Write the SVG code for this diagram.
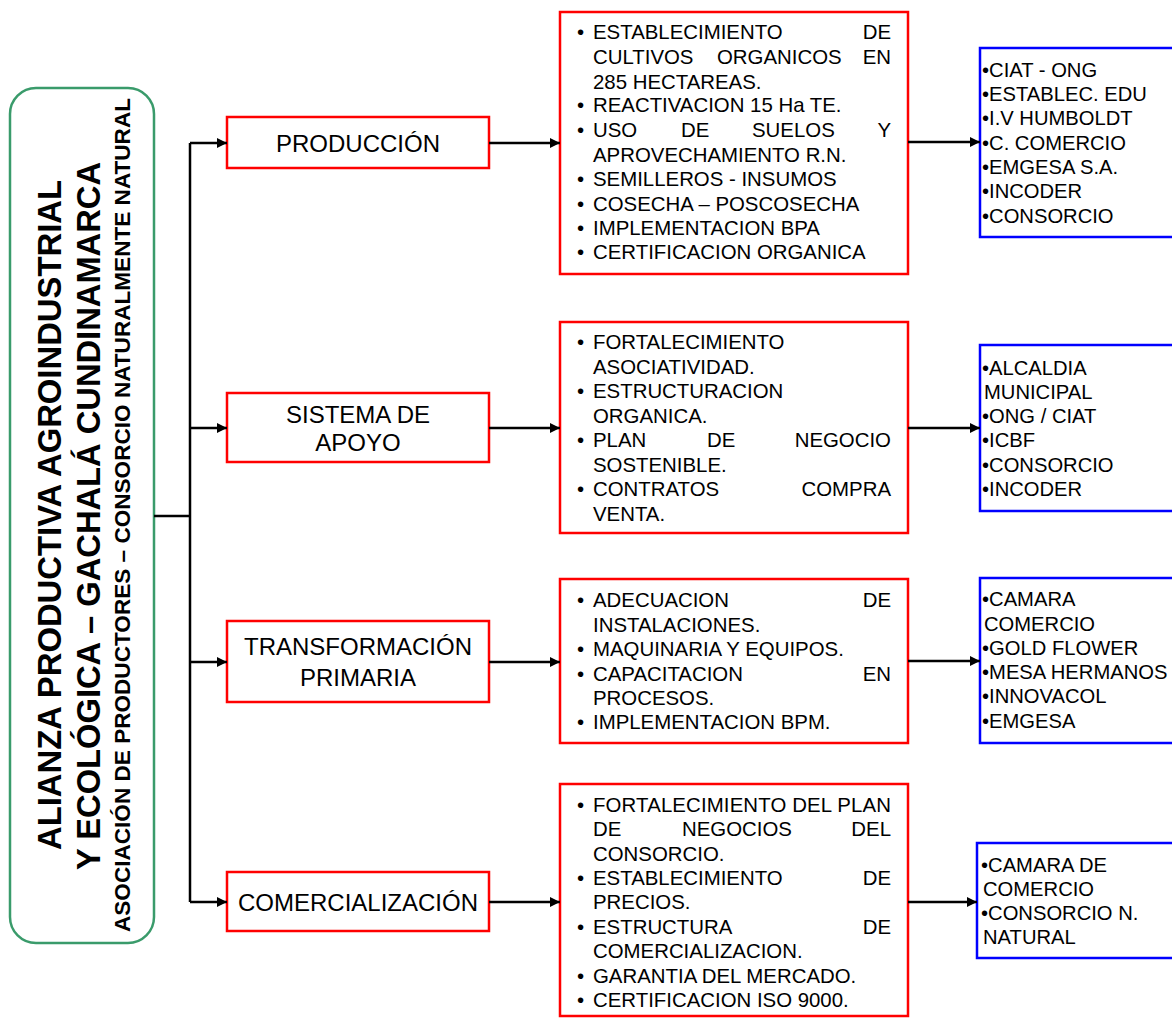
<svg xmlns="http://www.w3.org/2000/svg" width="1172" height="1018" viewBox="0 0 1172 1018">
<style>
text{font-family:"Liberation Sans",Arial,sans-serif;fill:#000}
.main{fill:#fff;stroke:#3a9b6b;stroke-width:2.5}
.cat{fill:#fff;stroke:#ff0000;stroke-width:2.5}
.det{fill:#fff;stroke:#ff0000;stroke-width:2.5}
.ent{fill:#fff;stroke:#0000ff;stroke-width:2.5}
.ct{font-size:24px;text-anchor:middle}
.dt{font-size:20.4px}
.et{font-size:20.2px}
.tb{font-weight:bold}
.conn path{fill:none;stroke:#000;stroke-width:2.5}
</style>
<defs>
<marker id="ah" viewBox="0 0 10 10" refX="10" refY="5" markerWidth="11" markerHeight="10" markerUnits="userSpaceOnUse" orient="auto">
<path d="M0,0 L10,5 L0,10 z" fill="#000"/>
</marker>
</defs>

<g id="main">
<rect class="main" x="10" y="88" width="144" height="855" rx="26" ry="26"/>
<text class="tb" transform="translate(61,515) rotate(-90)" x="-335" y="0" font-size="32.5" textLength="670" lengthAdjust="spacingAndGlyphs">ALIANZA PRODUCTIVA AGROINDUSTRIAL</text>
<text class="tb" transform="translate(100,516) rotate(-90)" x="-354" y="0" font-size="33.5" textLength="708" lengthAdjust="spacingAndGlyphs">Y ECOLÓGICA – GACHALÁ CUNDINAMARCA</text>
<text class="tb" transform="translate(130,515) rotate(-90)" x="-417" y="0" font-size="22.5" textLength="834" lengthAdjust="spacingAndGlyphs">ASOCIACIÓN DE PRODUCTORES – CONSORCIO NATURALMENTE NATURAL</text>
</g>

<g id="cat-produccion">
<rect class="cat" x="227" y="117" width="262" height="51"/>
<text class="ct" x="358" y="152">PRODUCCIÓN</text>
</g>
<g id="cat-apoyo">
<rect class="cat" x="227" y="393" width="262" height="69"/>
<text class="ct" x="358" y="423">SISTEMA DE</text>
<text class="ct" x="358" y="451">APOYO</text>
</g>
<g id="cat-transformacion">
<rect class="cat" x="227" y="621" width="262" height="81"/>
<text class="ct" x="358" y="655">TRANSFORMACIÓN</text>
<text class="ct" x="358" y="686">PRIMARIA</text>
</g>
<g id="cat-comercializacion">
<rect class="cat" x="227" y="872" width="262" height="59"/>
<text class="ct" x="358" y="911">COMERCIALIZACIÓN</text>
</g>

<g id="det-produccion" class="dt">
<rect class="det" x="560" y="12" width="348" height="262"/>
<text x="577" y="39">•</text><text x="593" y="39">ESTABLECIMIENTO</text><text x="891" y="39" text-anchor="end">DE</text>
<text x="593" y="64">CULTIVOS</text><text x="717" y="64">ORGANICOS</text><text x="891" y="64" text-anchor="end">EN</text>
<text x="593" y="89">285 HECTAREAS.</text>
<text x="577" y="112">•</text><text x="593" y="112">REACTIVACION 15 Ha TE.</text>
<text x="577" y="137">•</text><text x="593" y="137">USO</text><text x="681" y="137">DE</text><text x="752" y="137">SUELOS</text><text x="891" y="137" text-anchor="end">Y</text>
<text x="593" y="162">APROVECHAMIENTO R.N.</text>
<text x="577" y="186">•</text><text x="593" y="186">SEMILLEROS - INSUMOS</text>
<text x="577" y="211">•</text><text x="593" y="211">COSECHA – POSCOSECHA</text>
<text x="577" y="235">•</text><text x="593" y="235">IMPLEMENTACION BPA</text>
<text x="577" y="259">•</text><text x="593" y="259">CERTIFICACION ORGANICA</text>
</g>

<g id="det-apoyo" class="dt">
<rect class="det" x="560" y="322" width="348" height="211"/>
<text x="577" y="349">•</text><text x="593" y="349">FORTALECIMIENTO</text>
<text x="593" y="374">ASOCIATIVIDAD.</text>
<text x="577" y="398">•</text><text x="593" y="398">ESTRUCTURACION</text>
<text x="593" y="423">ORGANICA.</text>
<text x="577" y="447">•</text><text x="593" y="447">PLAN</text><text x="707" y="447">DE</text><text x="891" y="447" text-anchor="end">NEGOCIO</text>
<text x="593" y="472">SOSTENIBLE.</text>
<text x="577" y="496">•</text><text x="593" y="496">CONTRATOS</text><text x="891" y="496" text-anchor="end">COMPRA</text>
<text x="593" y="521">VENTA.</text>
</g>

<g id="det-transformacion" class="dt">
<rect class="det" x="560" y="579" width="348" height="164"/>
<text x="577" y="607">•</text><text x="593" y="607">ADECUACION</text><text x="891" y="607" text-anchor="end">DE</text>
<text x="593" y="632">INSTALACIONES.</text>
<text x="577" y="656">•</text><text x="593" y="656">MAQUINARIA Y EQUIPOS.</text>
<text x="577" y="681">•</text><text x="593" y="681">CAPACITACION</text><text x="891" y="681" text-anchor="end">EN</text>
<text x="593" y="705">PROCESOS.</text>
<text x="577" y="729">•</text><text x="593" y="729">IMPLEMENTACION BPM.</text>
</g>

<g id="det-comercializacion" class="dt">
<rect class="det" x="560" y="784" width="348" height="232"/>
<text x="577" y="812">•</text><text x="593" y="812" textLength="298" lengthAdjust="spacing">FORTALECIMIENTO DEL PLAN</text>
<text x="593" y="836">DE</text><text x="682" y="836">NEGOCIOS</text><text x="891" y="836" text-anchor="end">DEL</text>
<text x="593" y="861">CONSORCIO.</text>
<text x="577" y="885">•</text><text x="593" y="885">ESTABLECIMIENTO</text><text x="891" y="885" text-anchor="end">DE</text>
<text x="593" y="909">PRECIOS.</text>
<text x="577" y="934">•</text><text x="593" y="934">ESTRUCTURA</text><text x="891" y="934" text-anchor="end">DE</text>
<text x="593" y="958">COMERCIALIZACION.</text>
<text x="577" y="983">•</text><text x="593" y="983">GARANTIA DEL MERCADO.</text>
<text x="577" y="1007">•</text><text x="593" y="1007">CERTIFICACION ISO 9000.</text>
</g>

<g id="ent-produccion" class="et">
<rect class="ent" x="980" y="48" width="210" height="189"/>
<text x="982" y="77">•CIAT - ONG</text>
<text x="982" y="101">•ESTABLEC. EDU</text>
<text x="982" y="125">•I.V HUMBOLDT</text>
<text x="982" y="150">•C. COMERCIO</text>
<text x="982" y="174">•EMGESA S.A.</text>
<text x="982" y="198">•INCODER</text>
<text x="982" y="223">•CONSORCIO</text>
</g>

<g id="ent-apoyo" class="et">
<rect class="ent" x="980" y="345" width="210" height="166"/>
<text x="982" y="375">•ALCALDIA</text>
<text x="984" y="399">MUNICIPAL</text>
<text x="982" y="423">•ONG / CIAT</text>
<text x="982" y="447">•ICBF</text>
<text x="982" y="472">•CONSORCIO</text>
<text x="982" y="496">•INCODER</text>
</g>

<g id="ent-transformacion" class="et">
<rect class="ent" x="980" y="578" width="210" height="165"/>
<text x="982" y="606">•CAMARA</text>
<text x="984" y="631">COMERCIO</text>
<text x="982" y="655">•GOLD FLOWER</text>
<text x="982" y="679">•MESA HERMANOS</text>
<text x="982" y="703">•INNOVACOL</text>
<text x="982" y="728">•EMGESA</text>
</g>

<g id="ent-comercializacion" class="et">
<rect class="ent" x="977" y="843" width="213" height="115"/>
<text x="981" y="872">•CAMARA DE</text>
<text x="983" y="896">COMERCIO</text>
<text x="981" y="920">•CONSORCIO N.</text>
<text x="983" y="944">NATURAL</text>
</g>

<g id="connectors" class="conn">
<path d="M154,516 H190"/>
<path d="M190,143 V902"/>
<path d="M190,143 H227" marker-end="url(#ah)"/>
<path d="M190,428 H227" marker-end="url(#ah)"/>
<path d="M190,662 H227" marker-end="url(#ah)"/>
<path d="M190,902 H227" marker-end="url(#ah)"/>
<path d="M489,143 H560" marker-end="url(#ah)"/>
<path d="M489,428 H560" marker-end="url(#ah)"/>
<path d="M489,662 H560" marker-end="url(#ah)"/>
<path d="M489,902 H560" marker-end="url(#ah)"/>
<path d="M908,142 H980" marker-end="url(#ah)"/>
<path d="M908,428 H980" marker-end="url(#ah)"/>
<path d="M908,661 H980" marker-end="url(#ah)"/>
<path d="M908,902 H977" marker-end="url(#ah)"/>
</g>
</svg>
